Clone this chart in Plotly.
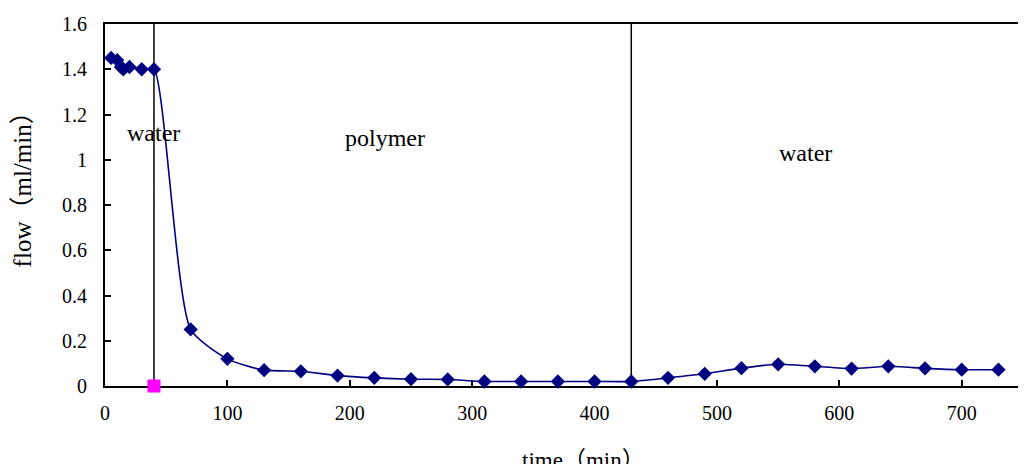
import plotly.graph_objects as go

# data
time_min = [5, 10, 13, 15, 20, 30, 40, 70, 100, 130, 160, 190, 220, 250, 280, 310,
            340, 370, 400, 430, 460, 490, 520, 550, 580, 610, 640, 670, 700, 730]
flow = [1.45, 1.44, 1.41, 1.40, 1.41, 1.40, 1.40, 0.25, 0.12, 0.07, 0.065, 0.046, 0.036,
        0.03, 0.029, 0.02, 0.02, 0.02, 0.02, 0.02, 0.036, 0.054, 0.079, 0.096, 0.087,
        0.077, 0.087, 0.078, 0.072, 0.072]
switch_times = [40, 430]
switch_y = [0, -0.018]
phase_labels = ["water", "polymer", "water"]
phase_x = [40, 229, 572]
phase_y = [1.12, 1.095, 1.03]

FONT = "Liberation Serif, Times New Roman, serif"
CJK = "Liberation Serif, Noto Sans CJK SC, serif"

fig = go.Figure()

# vertical switch lines
for t in switch_times:
    fig.add_trace(go.Scatter(x=[t, t], y=[0, 1.6], mode="lines",
                             line=dict(color="black", width=1.5), showlegend=False))

fig.add_trace(go.Scatter(
    x=time_min, y=flow, mode="lines+markers",
    line=dict(color="#000080", width=1.6, shape="spline", smoothing=0.6),
    marker=dict(symbol="diamond", size=11, color="#000080"),
    showlegend=False, cliponaxis=False))

fig.add_trace(go.Scatter(x=[switch_times[0]], y=[switch_y[0]], mode="markers",
                         marker=dict(symbol="square", size=13, color="#FF00FF"),
                         showlegend=False, cliponaxis=False))
fig.add_trace(go.Scatter(x=[switch_times[1]], y=[switch_y[1]], mode="markers",
                         marker=dict(symbol="triangle-up", size=17, color="#FFFF00",
                                     line=dict(width=0)),
                         showlegend=False, cliponaxis=False))

for lab, xx, yy in zip(phase_labels, phase_x, phase_y):
    fig.add_annotation(x=xx, y=yy, text=lab, showarrow=False,
                       font=dict(family=FONT, size=24, color="black"))

fig.add_annotation(xref="paper", yref="paper", x=0.52, y=-0.205, text="time（min）",
                   showarrow=False, xanchor="center", yanchor="middle",
                   font=dict(family=CJK, size=23, color="black"))
fig.add_annotation(xref="paper", yref="paper", x=-0.09, y=0.56, text="flow（ml/min）",
                   showarrow=False, textangle=-90, xanchor="center", yanchor="middle",
                   font=dict(family=CJK, size=25, color="black"))

# page body has an 8px default margin, so the figure is offset by 8px
fig.update_layout(
    width=1018, height=456,
    margin=dict(l=97, r=0, t=16, b=78, autoexpand=False),
    paper_bgcolor="white", plot_bgcolor="white",
    font=dict(family=FONT, size=20, color="black"),
)
fig.update_xaxes(range=[0, 752.5], tickvals=[0, 100, 200, 300, 400, 500, 600, 700],
                 automargin=False, layer="below traces",
                 showgrid=False, zeroline=False, showline=True, linecolor="black",
                 linewidth=2, mirror=True, ticks="inside", ticklen=6, tickwidth=1.5,
                 tickcolor="black", ticklabelstandoff=8)
fig.update_yaxes(range=[0, 1.6], dtick=0.2, showgrid=False, zeroline=False,
                 automargin=False,
                 showline=True, linecolor="black", linewidth=2, ticks="inside",
                 ticklen=6, tickwidth=1.5, tickcolor="black", ticklabelstandoff=12)

fig.write_html("out.html")
